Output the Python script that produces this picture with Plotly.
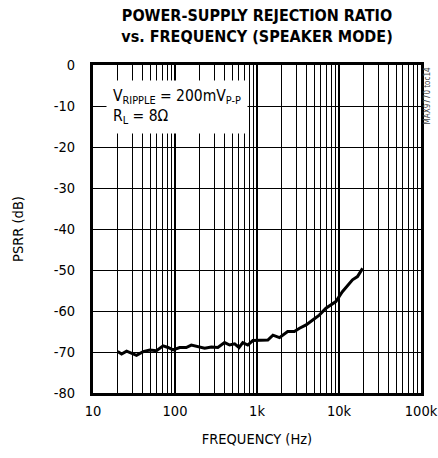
import plotly.graph_objects as go

# PSRR curve
freq_hz = [20, 22.3, 25.7, 29.5, 33.9, 40.9, 49.3, 59.5, 71.6, 82.2, 94.8, 114, 137, 158,
           191, 230, 278, 333, 402, 464, 534, 604, 671, 772, 890, 1075, 1355, 1565, 1880,
           2365, 2850, 3300, 3970, 4780, 5750, 6930, 9150, 11000, 14600, 16800, 19400]
psrr_db = [-69.9, -70.5, -69.8, -70.3, -70.8, -69.9, -69.5, -69.7, -68.5, -68.9, -69.5, -68.9,
           -68.9, -68.3, -68.7, -69.1, -68.8, -68.9, -67.7, -68.3, -68.0, -68.9, -67.7, -68.3,
           -67.2, -67.1, -67.1, -65.9, -66.5, -65.0, -65.0, -64.2, -63.4, -62.2, -61.0, -59.3,
           -57.7, -55.3, -52.4, -51.6, -49.6]

x_ticks = [10, 100, 1000, 10000, 100000]
x_labels = ["10", "100", "1k", "10k", "100k"]
y_ticks = [0, -10, -20, -30, -40, -50, -60, -70, -80]
y_labels = ["0", "-10", "-20", "-30", "-40", "-50", "-60", "-70", "-80"]
minor_x = [m * d for d in [10, 100, 1000, 10000] for m in range(2, 10)]

font = "DejaVu Sans Condensed, Liberation Sans Narrow, Liberation Sans, sans-serif"

fig = go.Figure()
fig.add_trace(go.Scatter(x=freq_hz, y=psrr_db, mode="lines",
                         line=dict(color="black", width=3), showlegend=False))

fig.update_xaxes(type="log", range=[1, 5], tickvals=x_ticks, ticktext=x_labels,
                 showgrid=True, gridcolor="black", gridwidth=2,
                 minor=dict(tickvals=minor_x, showgrid=True, gridcolor="black",
                            gridwidth=1, ticks=""),
                 showline=True, linecolor="black", linewidth=3, mirror=True,
                 ticks="", zeroline=False, automargin=False, ticklabelstandoff=3,
                 ticklabeloverflow="allow",
                 title=dict(text="FREQUENCY (Hz)", font=dict(size=14.5), standoff=16),
                 tickfont=dict(size=14.5))
fig.update_yaxes(range=[-80, 0], tickvals=y_ticks, ticktext=y_labels,
                 showgrid=True, gridcolor="black", gridwidth=1,
                 showline=True, linecolor="black", linewidth=3, mirror=True,
                 ticks="", zeroline=False, automargin=False, ticklabelstandoff=12,
                 ticklabeloverflow="allow",
                 title=dict(text="PSRR (dB)", font=dict(size=14.5), standoff=27),
                 tickfont=dict(size=14.5))

# condition box over the grid
fig.add_annotation(x=0.04, y=0.955, xref="paper", yref="paper", xanchor="left", yanchor="top",
                   text="V<sub>RIPPLE</sub> = 200mV<sub>P-P</sub><br>R<sub>L</sub> = 8Ω",
                   showarrow=False, align="left", bgcolor="white", borderpad=6,
                   font=dict(size=15.5, color="black"))
fig.add_annotation(x=1.021, y=1.0, xref="paper", yref="paper", xanchor="center", yanchor="top",
                   text="MAX9770 toc14", textangle=-90, showarrow=False,
                   font=dict(size=8, color="#444"))

fig.update_layout(
    width=438, height=458,
    margin=dict(l=93, r=17, t=65, b=65),
    paper_bgcolor="white", plot_bgcolor="white",
    font=dict(family=font, color="black"),
    title=dict(text="<b>POWER-SUPPLY REJECTION RATIO<br>vs. FREQUENCY (SPEAKER MODE)</b>",
               x=0.5, xref="paper", xanchor="center", y=0.954, yanchor="top",
               font=dict(size=16, color="black")),
)

# drop the page's default body margin so the figure sits at the window corner
fig.write_html("out.html", config={"displayModeBar": False},
               post_script="document.body.style.margin = '0';")
